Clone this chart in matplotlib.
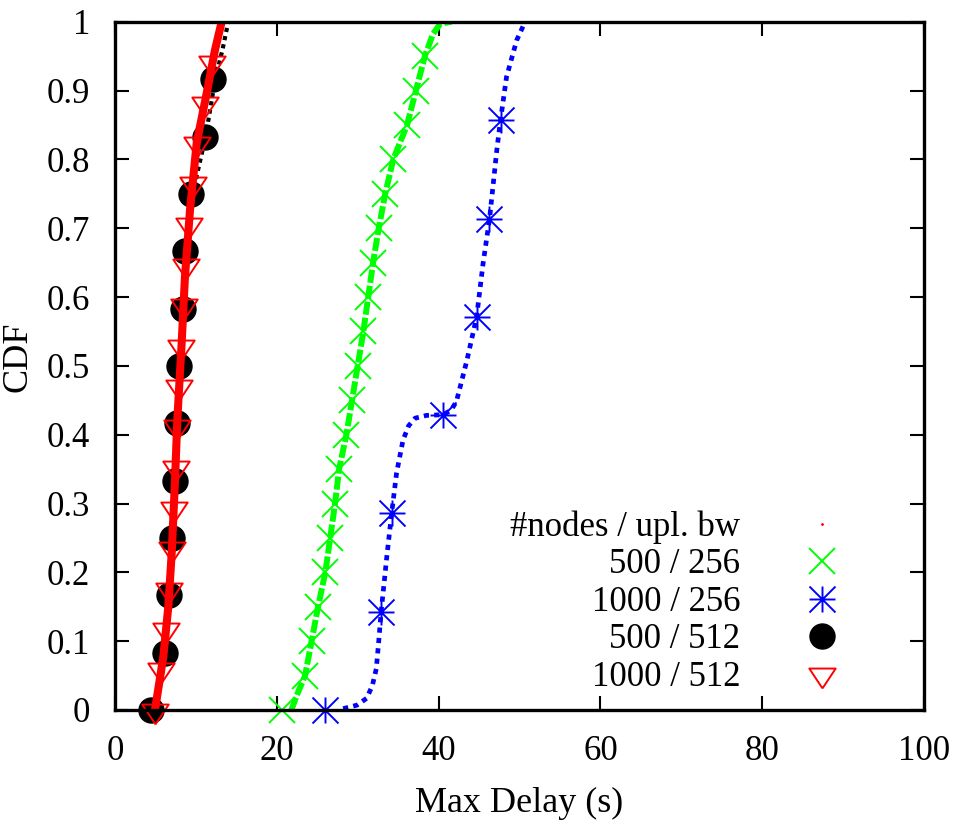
import matplotlib
matplotlib.use("Agg")
import matplotlib.pyplot as plt
from matplotlib.lines import Line2D
from matplotlib.path import Path

plt.rcParams['font.family'] = ['Liberation Serif', 'DejaVu Serif']

# 500 / 256 (green)
green_mark_x = [20.6, 23.5, 24.3, 25.1, 26.0, 26.6, 27.2, 27.7, 28.6, 29.3,
                30.0, 30.7, 31.3, 31.9, 32.6, 33.4, 34.4, 36.1, 37.2, 38.3]
green_mark_y = [0.00, 0.05, 0.10, 0.15, 0.20, 0.25, 0.30, 0.35, 0.40, 0.45,
                0.50, 0.55, 0.60, 0.65, 0.70, 0.75, 0.80, 0.85, 0.90, 0.95]
green_line_x = [21.8, 22.6, 23.5, 24.3, 25.1, 26.0, 26.6, 27.2, 27.7, 28.6, 29.3,
                30.0, 30.7, 31.3, 31.9, 32.6, 33.4, 34.4, 36.1, 37.2, 38.3,
                39.3, 40.2, 41.6]
green_line_y = [0.00, 0.025, 0.05, 0.10, 0.15, 0.20, 0.25, 0.30, 0.35, 0.40, 0.45,
                0.50, 0.55, 0.60, 0.65, 0.70, 0.75, 0.80, 0.85, 0.90, 0.95,
                0.982, 0.997, 1.00]

# 1000 / 256 (blue)
blue_mark_x = [26.0, 32.9, 34.3, 40.5, 44.7, 46.25, 47.7]
blue_mark_y = [0.0, 0.143, 0.286, 0.429, 0.571, 0.714, 0.857]
blue_line_x = [28.2, 29.9, 31.1, 31.8, 32.3, 32.6, 32.9, 33.6, 34.2, 34.8, 35.6,
               36.3, 37.1, 38.5, 40.5, 41.5, 42.2, 43.5, 44.7, 45.5, 46.3,
               47.2, 47.65, 48.4, 49.65, 50.7]
blue_line_y = [0.002, 0.007, 0.017, 0.035, 0.06, 0.10, 0.143, 0.223, 0.286, 0.344, 0.392,
               0.413, 0.424, 0.428, 0.429, 0.435, 0.448, 0.508, 0.571, 0.649, 0.714,
               0.814, 0.857, 0.920, 0.973, 1.0]

# 500 / 512 (black)
black_mark_x = [4.5, 6.2, 6.7, 7.1, 7.4, 7.7, 7.95, 8.4, 8.65, 9.4, 11.1, 12.15]
black_mark_y = [0.0, 0.083, 0.167, 0.25, 0.333, 0.417, 0.5, 0.583, 0.667, 0.75, 0.833, 0.917]
black_line_x = [5.0, 6.2, 6.7, 7.1, 7.4, 7.7, 7.95, 8.4, 8.7, 9.6, 11.2, 12.4, 13.3, 14.0]
black_line_y = [0.0, 0.083, 0.167, 0.25, 0.333, 0.417, 0.5, 0.583, 0.667, 0.75, 0.833,
                0.917, 0.96, 1.0]

# 1000 / 512 (red)
red_mark_x = [4.9, 5.7, 6.3, 6.7, 7.0, 7.3, 7.5, 7.7, 7.9, 8.2, 8.5, 8.8, 9.1, 9.6,
              10.1, 11.1, 12.0]
red_mark_y = [0.0, 0.059, 0.118, 0.176, 0.235, 0.294, 0.353, 0.412, 0.471, 0.529,
              0.588, 0.647, 0.706, 0.765, 0.824, 0.882, 0.941]
red_line_x = [4.94, 5.97, 6.59, 7.01, 7.42, 7.70, 8.24, 8.65, 9.27, 10.10, 11.33, 12.36, 13.19]
red_line_y = [0.0, 0.077, 0.150, 0.228, 0.334, 0.421, 0.533, 0.630, 0.726, 0.824, 0.896,
              0.959, 1.0]

legend_title = "#nodes / upl. bw"
labels = ["500 / 256", "1000 / 256", "500 / 512", "1000 / 512"]

# gnuplot-like markers
star = Path([(0, -1), (0, 1), (-1, 0), (1, 0), (-1, -1), (1, 1), (-1, 1), (1, -1)],
            [Path.MOVETO, Path.LINETO] * 4)
tri = [(0, -14), (-13.3, 6), (13.3, 6), (0, -14)]

fig = plt.figure(figsize=(9.61, 8.24), dpi=100)
ax = fig.add_axes([115 / 961, 1 - 710 / 824, 809 / 961, 688.3 / 824])

ax.plot(green_line_x, green_line_y, color='#00ff00', lw=4.3, dashes=(2.2, 0.5),
        solid_capstyle='butt', dash_capstyle='butt')
ax.plot(green_mark_x, green_mark_y, ls='none', marker='x', ms=18.7, mew=1.4,
        color='#00ff00', clip_on=False)

ax.plot(blue_line_x, blue_line_y, color='#0000ff', lw=3.4, dashes=(1.1, 1.1))
ax.plot(blue_mark_x, blue_mark_y, ls='none', marker=star, ms=18.7, mew=1.4,
        color='#0000ff', mfc='none', clip_on=False)

ax.plot(black_mark_x, black_mark_y, ls='none', marker='o', ms=18, color='black',
        clip_on=False)
ax.plot(black_line_x, black_line_y, color='black', lw=3.0, dashes=(1.0, 1.0))

ax.plot(red_mark_x, red_mark_y, ls='none', marker=tri, ms=20, mew=1.4, mec='#ff0000',
        mfc='none', clip_on=False)
ax.plot(red_line_x, red_line_y, color='#ff0000', lw=5.8, solid_capstyle='butt')

ax.set_xlim(0, 100)
ax.set_ylim(0, 1)
ax.set_xticks([0, 20, 40, 60, 80, 100])
ax.set_yticks([0, 0.1, 0.2, 0.3, 0.4, 0.5, 0.6, 0.7, 0.8, 0.9, 1.0])
ax.set_yticklabels(["0", "0.1", "0.2", "0.3", "0.4", "0.5", "0.6", "0.7", "0.8", "0.9", "1"])
ax.tick_params(direction='in', length=10, width=1.5, labelsize=25,
               top=True, right=True, pad=18)
for s in ax.spines.values():
    s.set_linewidth(2.4)

ax.set_xlabel("Max Delay (s)", fontsize=26, labelpad=14)
ax.set_ylabel("CDF", fontsize=26)
ax.yaxis.set_label_coords(-0.099, 0.513)

handles = [
    Line2D([], [], ls='none', marker='.', ms=2, color='#ff0000'),
    Line2D([], [], ls='none', marker='x', ms=18.7, mew=1.4, color='#00ff00'),
    Line2D([], [], ls='none', marker=star, ms=18.7, mew=1.4, color='#0000ff', mfc='none'),
    Line2D([], [], ls='none', marker='o', ms=18, color='black'),
    Line2D([], [], ls='none', marker=tri, ms=20, mew=1.4, mec='#ff0000', mfc='none'),
]
ax.legend(handles, [legend_title] + labels, loc='center right',
          bbox_to_anchor=(0.895, 0.157), frameon=False, fontsize=25,
          markerfirst=False, handlelength=1.0, handletextpad=1.85,
          labelspacing=0.13, borderpad=0, borderaxespad=0)

fig.savefig("out.png", dpi=100)
